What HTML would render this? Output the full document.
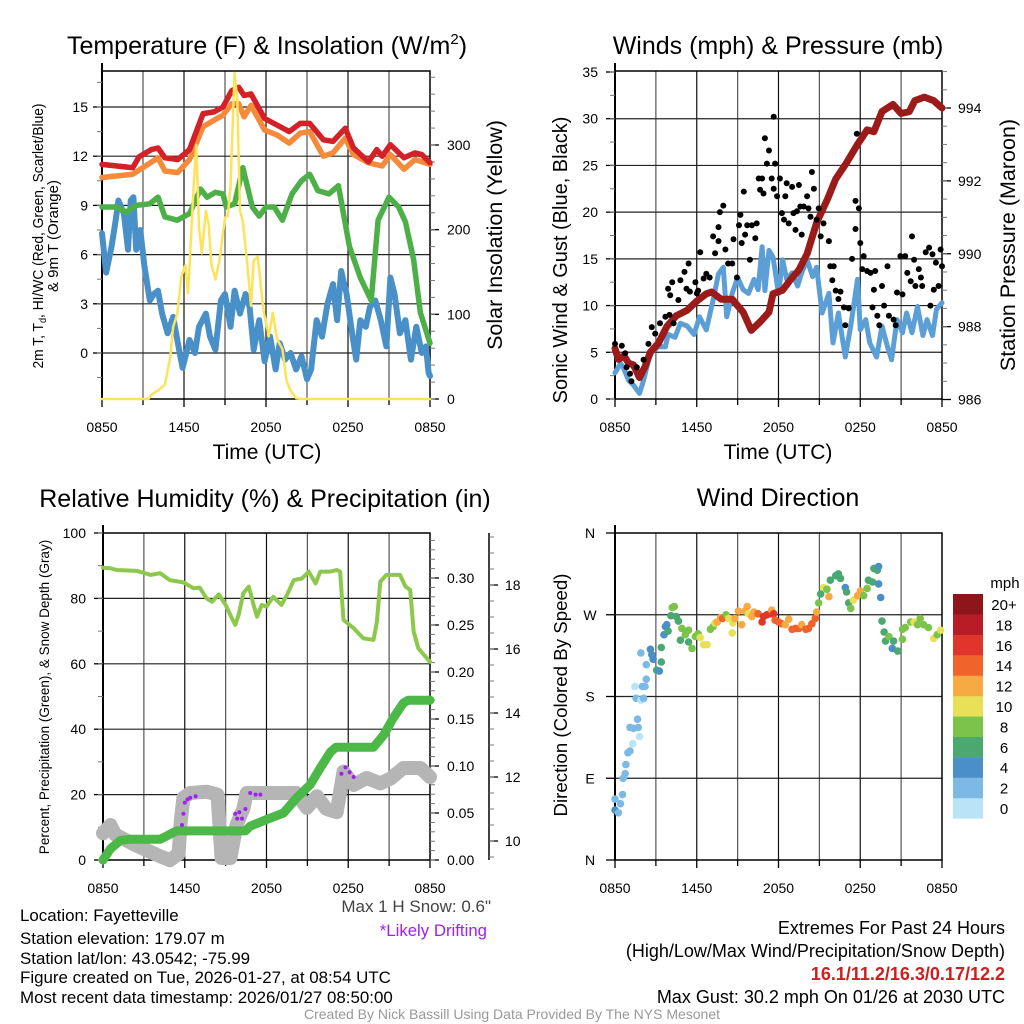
<!DOCTYPE html>
<html><head><meta charset="utf-8">
<style>
html,body{margin:0;padding:0;background:#fff;}
svg{display:block;font-family:"Liberation Sans",Arial,sans-serif;}
</style></head>
<body>
<svg id="chart" width="1024" height="1024" viewBox="0 0 1024 1024" xmlns="http://www.w3.org/2000/svg">
<rect width="1024" height="1024" fill="#fff"/>
<text x="267" y="54" font-size="25" text-anchor="middle">Temperature (F) &amp; Insolation (W/m<tspan font-size="15" dy="-10">2</tspan><tspan dy="10">)</tspan></text>
<text x="778" y="54" font-size="25" text-anchor="middle">Winds (mph) &amp; Pressure (mb)</text>
<text x="265" y="507" font-size="25" text-anchor="middle">Relative Humidity (%) &amp; Precipitation (in)</text>
<text x="778" y="506" font-size="25" text-anchor="middle">Wind Direction</text>
<text x="267" y="459" font-size="21" text-anchor="middle">Time (UTC)</text>
<text x="778" y="459" font-size="21" text-anchor="middle">Time (UTC)</text>
<text transform="translate(43,236) rotate(-90)" font-size="15" text-anchor="middle" textLength="265" lengthAdjust="spacingAndGlyphs">2m T, T<tspan font-size="10" dy="3">d</tspan><tspan dy="-3">, HI/WC (Red, Green, Scarlet/Blue)</tspan></text>
<text transform="translate(58,236) rotate(-90)" font-size="15" text-anchor="middle">&amp; 9m T (Orange)</text>
<text transform="translate(502,235) rotate(-90)" font-size="21.5" text-anchor="middle">Solar Insolation (Yellow)</text>
<text transform="translate(567,260) rotate(-90)" font-size="20" text-anchor="middle">Sonic Wind &amp; Gust (Blue, Black)</text>
<text transform="translate(1015,245) rotate(-90)" font-size="21.5" text-anchor="middle">Station Pressure (Maroon)</text>
<text transform="translate(49,697) rotate(-90)" font-size="13.5" text-anchor="middle">Percent, Precipitation (Green), &amp; Snow Depth (Gray)</text>
<text transform="translate(567,695) rotate(-90)" font-size="18.7" text-anchor="middle">Direction (Colored By Speed)</text>
<g font-size="16.9">
<text x="20" y="921">Location: Fayetteville</text>
<text x="20" y="944">Station elevation: 179.07 m</text>
<text x="20" y="964">Station lat/lon: 43.0542; -75.99</text>
<text x="20" y="983">Figure created on Tue, 2026-01-27, at 08:54 UTC</text>
<text x="20" y="1003">Most recent data timestamp: 2026/01/27 08:50:00</text>
</g>
<text x="491" y="912" font-size="17" fill="#444" text-anchor="end">Max 1 H Snow: 0.6"</text>
<text x="487" y="936" font-size="16.8" fill="#a020f0" text-anchor="end">*Likely Drifting</text>
<g font-size="18" text-anchor="end">
<text x="1005" y="934">Extremes For Past 24 Hours</text>
<text x="1005" y="957">(High/Low/Max Wind/Precipitation/Snow Depth)</text>
<text x="1005" y="980" fill="#cc1f1f" font-weight="bold">16.1/11.2/16.3/0.17/12.2</text>
<text x="1005" y="1003">Max Gust: 30.2 mph On 01/26 at 2030 UTC</text>
</g>
<text x="512" y="1019" font-size="14" fill="#999" text-anchor="middle">Created By Nick Bassill Using Data Provided By The NYS Mesonet</text>
</svg>
<script>
// ---------- data ----------
const xTickLabels=["0850","1450","2050","0250","0850"];
const tempTicks=[0,3,6,9,12,15];
const solarTicks=[0,100,200,300];
const windTicks=[0,5,10,15,20,25,30,35];
const presTicks=[986,988,990,992,994];
const rhTicks=[0,20,40,60,80,100];
const precipTicks=[0.00,0.05,0.10,0.15,0.20,0.25,0.30];
const snowTicks=[10,12,14,16,18];
const dirTicks=["N","E","S","W","N"];

const redHours=[0,2.25,2.7,3.6,4.1,4.6,5.55,6.4,6.9,7.4,8.2,8.85,9.5,10,10.4,10.9,11.3,11.9,12.8,13.7,14.5,15.2,16.2,16.9,17.8,18.4,19.5,20.1,20.5,21.1,22.1,22.9,23.4,24];
const redTemp=[11.5,11.3,11.95,12.4,12.5,11.9,11.8,12.4,13.5,14.6,14.7,15.0,16.0,16.2,15.7,15.8,15.2,14.3,13.9,13.5,14.0,14.0,13.0,12.9,13.7,12.5,11.65,12.4,12.0,12.7,11.9,12.2,12.1,11.6];
const orangeHours=[0,2.25,4.1,4.6,5.55,6.4,7.4,8.2,8.85,9.5,10,10.4,10.9,11.9,12.8,13.7,14.5,15.2,16.2,16.9,17.8,18.4,19.5,20.5,21.1,22.1,22.9,24];
const orangeTemp=[10.7,10.9,11.9,11.1,11.0,11.8,13.8,14.2,14.5,15.2,15.2,14.4,15.1,13.6,13.3,12.8,13.4,13.5,12.0,12.2,13.1,12.1,11.6,11.4,12.1,11.2,11.8,11.5];
const greenHours=[0,1,1.8,2.5,3.5,4.1,4.6,5.5,6.4,7.2,7.7,8.3,8.85,9.1,9.7,10.3,11,11.5,12,12.6,13.2,13.9,14.6,15.2,15.8,16.6,17.3,18.1,18.9,19.7,20.2,21,21.7,22.2,22.8,23.3,24];
const greenTemp=[8.9,8.9,8.6,9.0,9.1,9.5,8.3,8.1,8.5,10.0,9.5,9.8,9.7,8.9,9.1,11.3,8.9,8.35,8.9,8.9,8.1,9.7,10.5,10.9,9.9,9.7,10.2,6.5,4.6,3.2,8.1,9.5,8.9,8.0,5.7,2.45,0.6];
const blueHours=[0,0.3,0.7,1,1.2,1.6,1.9,2.1,2.3,2.5,2.8,3.1,3.5,3.8,4.1,4.4,4.8,5.2,5.6,5.9,6.4,6.8,7.1,7.6,7.9,8.3,8.7,9,9.4,9.7,10.1,10.5,10.8,11.1,11.5,11.9,12.3,12.7,13,13.4,13.8,14.2,14.6,15,15.3,15.7,16.1,16.5,16.9,17.2,17.5,17.9,18.3,18.6,18.9,19.3,19.6,20,20.4,20.8,21.1,21.4,21.8,22.2,22.6,23,23.4,23.7,23.9,24];
const blueTemp=[7.3,4.9,6.5,8.1,9.3,8.5,6.3,9.3,9.5,6.3,7.5,5.3,3.2,3.6,3.8,2.4,1.2,2.2,0.4,-0.9,0.8,0.0,1.6,2.4,1.0,0.2,3.2,3.6,1.6,3.8,2.4,3.6,2.8,0.2,2.0,-0.5,1.0,-1.0,0.6,-0.4,0.0,-1.0,-0.2,-1.6,-1.0,2.0,1.0,3.0,4.2,2.0,5.0,3.6,1.2,-0.4,2.0,1.6,2.8,3.2,2.0,0.4,4.6,3.6,1.2,2.0,-0.4,1.6,0.0,0.4,-1.2,-1.4];
const solarHours=[0,3.4,3.6,4.1,4.6,5,5.2,5.5,5.8,6.1,6.3,6.7,6.9,7.1,7.3,7.6,7.8,8,8.3,8.6,9,9.2,9.4,9.6,9.7,9.9,10.1,10.3,10.6,10.9,11.1,11.4,11.8,12.2,12.5,12.8,13.2,13.5,13.8,14.2,14.6,24];
const solarVals=[0,0,5,10,17,50,85,100,144,158,125,250,300,203,172,222,207,160,141,164,214,216,250,341,385,353,222,210,164,110,164,168,106,74,102,71,59,22,10,1,0,0];

const pressHours=[0,0.25,0.65,1,1.35,1.8,2.2,2.6,3.2,3.8,4.5,5.3,6,6.7,7.1,7.8,8.6,9.4,10,10.7,11.3,11.6,12.3,12.9,13.5,14.1,14.8,15.6,16.2,17,17.8,18.5,19,19.6,20.4,21,21.6,22,22.7,23.4,24];
const pressVals=[987.4,987.1,987.2,987.0,986.95,986.6,986.9,987.3,987.55,988.0,988.3,988.45,988.7,988.9,988.95,988.75,988.75,988.4,987.9,988.15,988.4,988.9,989.0,989.3,989.55,990.0,990.85,991.5,992.05,992.5,993.0,993.4,993.35,993.9,994.1,993.85,993.9,994.2,994.3,994.2,994.0];
const windHours=[0,0.4,0.6,1.0,1.35,1.8,2.1,2.6,3.2,3.7,3.9,4.4,4.8,5.3,5.8,6.2,6.7,7.2,7.6,7.95,8.2,8.6,9.0,9.4,9.8,10.2,10.5,10.8,11.0,11.3,11.6,12.0,12.3,12.6,13.0,13.4,13.7,14.1,14.5,14.8,15.2,15.7,16.0,16.4,16.9,17.3,17.8,18.0,18.4,18.7,19.2,19.6,20.0,20.3,20.7,21.1,21.4,21.8,22.2,22.6,22.9,23.3,23.6,24];
const windSpeed=[2.8,3.8,3.4,2.0,1.5,0.6,2.0,4.9,5.6,5.6,6.9,6.6,8.1,7.8,6.9,8.8,7.4,10.6,13.4,14.1,8.8,11.3,13.0,11.7,11.3,12.8,11.7,16.3,11.6,15.9,15.2,11.3,14.9,12.8,13.5,12.1,13.5,14.9,13.1,14.1,9.2,11.3,6.0,9.2,4.5,7.8,12.8,7.4,8.5,6.0,4.5,7.8,5.6,4.2,8.5,7.1,9.2,7.1,9.9,6.8,8.5,6.8,9.6,10.3];
const gustHours=[0,0.5,0.85,1.2,1.1,0.75,1.6,2.1,2.45,2.7,2.95,3.3,3.7,4.0,4.3,3.9,4.05,4.2,4.65,4.8,5.1,5.4,5.25,5.5,5.9,6.1,6.0,6.25,6.5,6.7,6.95,7.2,7.35,7.6,7.7,7.95,7.6,8.1,8.3,8.6,8.7,8.95,9.1,9.2,9.3,9.55,9.7,9.45,9.9,10.05,10.3,10.4,10.55,10.8,10.65,10.9,11.0,11.15,11.3,11.5,11.65,11.75,11.65,11.9,12.1,12.25,12.4,12.5,12.6,12.75,13.0,13.1,13.25,13.35,13.5,13.6,13.7,13.85,14.1,14.2,14.35,14.45,14.6,14.8,14.95,15.1,15.3,15.7,15.8,16.05,15.95,16.2,16.4,16.55,16.8,16.9,17.15,17.4,17.65,17.65,17.9,17.75,18.0,18.25,18.15,18.5,18.75,19.0,19.1,18.9,19.25,19.4,19.6,19.75,20.0,20.1,20.45,20.6,20.7,20.95,21.1,21.3,21.45,21.7,21.8,21.95,22.05,22.3,22.45,22.55,22.8,23.05,23.15,23.3,23.4,23.55,23.75,23.9,24];
const gustSpeed=[5.9,5.7,3.4,1.9,2.7,4.9,3.4,4.2,5.9,7.7,7.0,8.1,8.8,9.0,8.1,11.8,11.1,12.5,10.6,12.7,13.6,14.5,11.8,11.5,12.5,11.6,11.3,15.7,12.9,13.4,13.0,17.4,15.6,18.4,20.0,20.7,16.9,16.0,14.5,14.5,17.1,13.0,18.6,19.7,16.7,17.6,18.6,22.2,14.9,18.6,17.2,18.8,23.6,23.6,22.4,22.0,27.9,25.2,26.6,23.6,30.2,25.2,22.5,21.7,23.6,19.9,19.2,21.7,23.1,18.8,22.7,19.9,18.1,20.1,22.9,20.6,17.6,20.6,21.7,20.4,19.5,24.3,22.5,19.2,20.4,17.4,18.8,16.9,14.2,14.2,12.7,11.6,10.7,11.5,9.8,7.9,9.7,15.0,18.2,21.2,20.4,28.4,16.7,15.3,13.9,13.7,13.5,11.7,13.7,9.8,8.9,7.9,12.1,10.0,14.2,8.9,8.5,7.9,11.4,15.3,11.2,15.3,13.5,12.6,17.4,14.9,12.1,13.9,13.0,12.1,15.7,16.2,10.0,15.5,11.7,14.6,12.1,16.0,14.2];

const rhHours=[0,0.55,1,2.5,3.5,4.2,4.9,5.9,6.65,7.1,7.6,8.0,8.5,9.0,9.35,9.7,9.95,10.3,10.7,11.05,11.3,11.65,12.0,12.5,13.1,13.5,14.0,14.6,15.1,15.6,15.95,16.7,17.15,17.4,17.65,18.4,19.1,19.85,20.1,20.35,20.8,21.8,22.2,22.55,22.8,23.15,24];
const rhVals=[89.4,89.2,88.7,88.4,87.2,87.7,85.6,84.9,83.1,83.3,80.0,79.0,81.2,78.0,74.9,71.9,74.9,81.6,83.6,78.0,74.4,78.0,77.5,80.5,78.0,81.0,85.6,86.1,88.2,84.6,88.2,88.2,88.7,88.2,73.4,70.9,67.8,67.3,72.9,85.1,87.2,87.2,83.6,82.6,69.8,64.7,60.6];
const precipHours=[0,0.55,1.3,2,4.2,5.4,10.45,10.8,12.0,13.25,14.2,15.2,15.95,16.7,17.1,19.85,20.6,21.3,22.05,22.4,24];
const precipVals=[0,0.012,0.021,0.022,0.022,0.031,0.031,0.036,0.043,0.05,0.066,0.08,0.098,0.115,0.12,0.12,0.133,0.151,0.167,0.17,0.17];
const snowHours=[0,0.55,0.9,2.25,4.0,4.9,5.55,5.7,5.9,6.4,7.6,8.4,8.7,9.35,9.8,10.3,10.55,14.2,14.95,15.7,16.4,17.15,17.65,18.4,19.35,20.35,21.1,22.05,23.3,24];
const snowDepth=[10.24,10.5,10.2,9.9,9.56,9.4,9.6,10.6,11.35,11.5,11.54,11.45,9.47,9.47,10.5,11.0,11.5,11.5,11.03,11.4,11.0,10.9,12.17,11.75,11.97,11.8,11.95,12.28,12.28,12.0];
const driftHours=[5.8,5.9,6.0,6.2,6.4,6.8,9.7,9.85,10.0,10.2,10.45,10.8,11.2,11.55,17.5,17.8,18.1,18.4];
const driftDepth=[10.5,10.85,11.2,11.3,11.35,11.4,10.85,10.7,10.9,10.7,11.0,11.5,11.45,11.45,12.1,12.3,12.15,12.0];

const dirHours=[0,0.25,0,0.4,0.55,0.6,0.75,0.8,0.95,1.1,1.3,1.1,1.35,1.7,1.8,1.65,1.55,1.9,2.1,1.45,2.0,2.2,2.3,2.3,1.9,2.6,2.7,2.8,3.05,3.25,3.4,3.4,3.6,3.7,3.9,3.8,4.2,4.35,4.1,4.5,4.65,4.9,4.8,5.15,5.4,5.4,5.65,5.9,6.1,6.25,6.5,6.75,7.0,7.2,7.35,7.5,7.75,7.9,8.15,8.35,8.65,8.6,8.8,9.05,9.3,9.55,9.7,9.8,10.05,10.2,10.5,10.8,10.9,11.15,11.4,11.5,11.65,11.75,12.0,12.25,12.5,12.75,13.0,13.25,13.5,13.7,14.0,14.2,14.45,14.7,14.8,14.95,15.1,15.3,15.55,15.7,15.8,16.2,16.4,16.55,16.9,17.0,17.15,17.3,17.5,17.8,18.0,18.25,18.5,18.6,18.9,19.0,19.25,19.35,19.35,19.5,19.6,19.75,19.85,20.1,20.35,20.45,20.75,21.1,21.1,21.3,21.7,21.95,22.2,22.4,22.65,23.0,23.4,23.65,23.9];
const dirDeg=[55,52,67,62,72,90,95,105,118,120,128,146,145,146,136,155,178,176,178,191,191,191,199,215,228,232,226,221,209,208,218,234,248,257,252,259,278,279,269,268,263,255,242,248,253,240,233,246,249,245,237,237,254,257,261,262,267,266,270,266,261,250,266,274,259,274,279,271,268,273,271,262,268,270,271,275,271,264,262,260,259,265,254,255,255,259,254,255,260,266,273,283,293,300,298,290,308,313,315,310,300,295,283,277,286,291,296,291,299,308,306,321,319,323,304,289,263,251,241,246,233,241,230,243,254,256,262,262,259,266,259,256,244,248,253];
const dirSpeed=[4,3,2,2,2,2,2,2,2,2,0,2,2,2,0,2,2,0,2,0,2,2,2,2,2,4,4,4,6,4,6,6,4,4,6,4,8,8,6,6,6,8,6,8,8,6,8,8,8,10,10,10,8,8,10,12,12,14,8,10,10,10,12,12,12,12,12,10,12,12,14,16,16,16,16,12,16,14,14,14,12,12,14,14,14,12,14,14,14,14,12,8,6,10,8,12,6,6,6,6,4,6,6,8,10,12,12,8,8,6,6,6,6,4,4,4,6,6,6,8,4,6,6,8,8,8,8,10,8,8,8,8,10,8,10];
const cbarLabels=["0","2","4","6","8","10","12","14","16","18","20+"];
const cbarColors=["#b9e4f7","#7cb9e4","#4a8fc7","#4aa870","#7cc34b","#e8e157","#f7a944","#f0632a","#df352b","#b81c26","#8e1519"];

// ---------- helpers ----------
const NS='http://www.w3.org/2000/svg';
const svg=document.getElementById('chart');
function mk(tag,attrs,name,parent){
  const el=document.createElementNS(NS,tag);
  for(const k in attrs) el.setAttribute(k,attrs[k]);
  
  
  (parent||svg).appendChild(el);
  return el;
}
function txt(x,y,s,anchor,name,size){
  const t=mk('text',{x:x,y:y,'font-size':size||14,'text-anchor':anchor||'middle'},name);
  t.textContent=s;return t;
}
function lin(d0,d1,r0,r1){return v=>r0+(v-d0)/(d1-d0)*(r1-r0);}
function pathD(xs,ys,fx,fy){return xs.map((h,i)=>(i?'L':'M')+fx(h).toFixed(1)+','+fy(ys[i]).toFixed(1)).join(' ');}
function speedColor(s){const i=Math.min(10,Math.max(0,Math.floor(s/2)));return cbarColors[i];}

function frame(P,name){
  const g=mk('g',{},name+'-grid');
  for(let i=1;i<8;i++){const x=P.fx(i*3);mk('line',{x1:x,x2:x,y1:P.y0,y2:P.y1,stroke:i%2?'#555':'#111','stroke-width':1.2},name+'-vgrid',g);}
  P.hgrid.forEach(y=>mk('line',{x1:P.x0,x2:P.x1,y1:y,y2:y,stroke:'#222','stroke-width':1.2},name+'-hgrid',g));
  mk('rect',{x:P.x0,y:P.y0,width:P.x1-P.x0,height:P.y1-P.y0,fill:'none',stroke:'#000','stroke-width':1.5},name+'-frame');
  mk('line',{x1:P.x0,x2:P.x0,y1:P.y0-8,y2:P.y1,stroke:'#000','stroke-width':2},name+'-left-spine');
  for(let i=0;i<=8;i++){const x=P.fx(i*3);mk('line',{x1:x,x2:x,y1:P.y1,y2:P.y1+(i%2?6:8),stroke:'#000','stroke-width':1.3},name+'-x-tick');}
  xTickLabels.forEach((s,i)=>txt(P.fx(i*6),P.y1+33,s,'middle',name+'-x-tick-label'));
}
function yTicks(P,x,dir,vals,fy,minorStep,lo,hi,labels,lx,anchor,name){
  vals.forEach((v,i)=>{const y=fy(v);mk('line',{x1:x,x2:x+dir*9,y1:y,y2:y,stroke:'#000','stroke-width':1.3},name+'-tick');
    txt(lx,y+5,labels?labels[i]:String(v),anchor,name+'-tick-label');});
  if(minorStep){for(let v=lo;v<=hi+1e-9;v+=minorStep){const y=fy(v);if(y<P.y0-9||y>P.y1)continue;mk('line',{x1:x,x2:x+dir*5,y1:y,y2:y,stroke:'#777','stroke-width':1},name+'-minor-tick');}}
}

// ---------- panel 1: temperature ----------
{
const P={x0:102,x1:430,y0:71,y1:399};P.fx=lin(0,24,P.x0,P.x1);
const fy=lin(0,15,353,107), fs=lin(0,300,399,145);
P.hgrid=tempTicks.map(fy);
frame(P,'temp');
yTicks(P,P.x0,-1,tempTicks,fy,1.5,-3,18,null,88,'end','temp-y');
yTicks(P,P.x1,1,solarTicks,fs,20,0,380,null,447,'start','solar-y');
const g=mk('g',{fill:'none','stroke-linejoin':'round','stroke-linecap':'round'},'temp-series');
mk('path',{d:pathD(blueHours,blueTemp,P.fx,fy),stroke:'#4a90c8','stroke-width':6},'windchill-line',g);
mk('path',{d:pathD(greenHours,greenTemp,P.fx,fy),stroke:'#4caf48','stroke-width':5.5},'dewpoint-line',g);
mk('path',{d:pathD(orangeHours,orangeTemp,P.fx,fy),stroke:'#f58a3a','stroke-width':5.5},'temp-9m-line',g);
mk('path',{d:pathD(redHours,redTemp,P.fx,fy),stroke:'#d42027','stroke-width':5.5},'temp-2m-line',g);
mk('path',{d:pathD(solarHours,solarVals,P.fx,fs),stroke:'#fde35a','stroke-width':2.5},'solar-line',g);
}
// ---------- panel 2: wind ----------
{
const P={x0:615,x1:942,y0:71,y1:399};P.fx=lin(0,24,P.x0,P.x1);
const fy=lin(0,35,399,72), fp=lin(986,994,399.5,108);
P.hgrid=windTicks.slice(1,7).map(fy);
frame(P,'wind');
yTicks(P,P.x0,-1,windTicks,fy,2.5,0,35,null,598,'end','wind-y');
yTicks(P,P.x1,1,presTicks,fp,0.5,985,995,null,958,'start','pressure-y');
const g=mk('g',{fill:'none','stroke-linejoin':'round','stroke-linecap':'round'},'wind-series');
mk('path',{d:pathD(windHours,windSpeed,P.fx,fy),stroke:'#5b9fd6','stroke-width':5},'sonic-wind-line',g);
const gd=mk('g',{fill:'#000'},'gust-dots');
gustHours.forEach((h,i)=>mk('circle',{cx:P.fx(h).toFixed(1),cy:fy(gustSpeed[i]).toFixed(1),r:3},'gust-dot',gd));
mk('path',{d:pathD(pressHours,pressVals,P.fx,fp),stroke:'#9b1b1b','stroke-width':7},'pressure-line',g);
}
// ---------- panel 3: humidity ----------
{
const P={x0:103,x1:430,y0:533,y1:860};P.fx=lin(0,24,P.x0,P.x1);
const fy=lin(0,100,860,533), fpr=lin(0,0.30,860,578), fsd=lin(10,18,841,585);
P.hgrid=rhTicks.slice(1,5).map(fy);
frame(P,'rh');
yTicks(P,P.x0,-1,rhTicks,fy,10,0,100,null,86,'end','rh-y');
yTicks(P,P.x1,1,precipTicks,fpr,0.01,0,0.34,precipTicks.map(v=>v.toFixed(2)),447,'start','precip-y');
mk('line',{x1:489,x2:489,y1:533,y2:860,stroke:'#000','stroke-width':1.5},'snow-axis-spine');
yTicks({y0:542,y1:860},489,1,snowTicks,fsd,0.5,9.5,19.5,null,505,'start','snow-y');
const g=mk('g',{fill:'none','stroke-linejoin':'round','stroke-linecap':'round'},'rh-series');
mk('path',{d:pathD(snowHours,snowDepth,P.fx,fsd),stroke:'#b5b5b5','stroke-width':14},'snow-depth-line',g);
const pd=mk('g',{fill:'#a020f0'},'drift-dots');
driftHours.forEach((h,i)=>mk('circle',{cx:P.fx(h).toFixed(1),cy:fsd(driftDepth[i]).toFixed(1),r:2},'drift-dot',pd));
mk('path',{d:pathD(precipHours,precipVals,P.fx,fpr),stroke:'#4cb848','stroke-width':9},'precip-line',g);
mk('path',{d:pathD(rhHours,rhVals,P.fx,fy),stroke:'#8cc84b','stroke-width':4},'rh-line',g);
}
// ---------- panel 4: direction ----------
{
const P={x0:615,x1:942,y0:533,y1:860};P.fx=lin(0,24,P.x0,P.x1);
const fy=lin(0,360,860,533);
P.hgrid=[90,180,270].map(fy);
frame(P,'dir');
yTicks(P,P.x0,-1,[0,90,180,270,360],fy,0,0,0,dirTicks,590,'middle','dir-y');
const gd=mk('g',{},'direction-dots');
dirHours.forEach((h,i)=>mk('circle',{cx:P.fx(h).toFixed(1),cy:fy(dirDeg[i]).toFixed(1),r:3.8,fill:speedColor(dirSpeed[i])},'direction-dot',gd));
const cb=mk('g',{},'speed-colorbar');
txt(1005,588,'mph','middle','colorbar-title',15);
cbarColors.forEach((c,i)=>{const y=594+(10-i)*20.4;
  mk('rect',{x:953,y:y,width:30,height:20.6,fill:c},'colorbar-box',cb);
  txt(1004,y+16,cbarLabels[i],'middle','colorbar-label',15);});
}
</script>
</body></html>
